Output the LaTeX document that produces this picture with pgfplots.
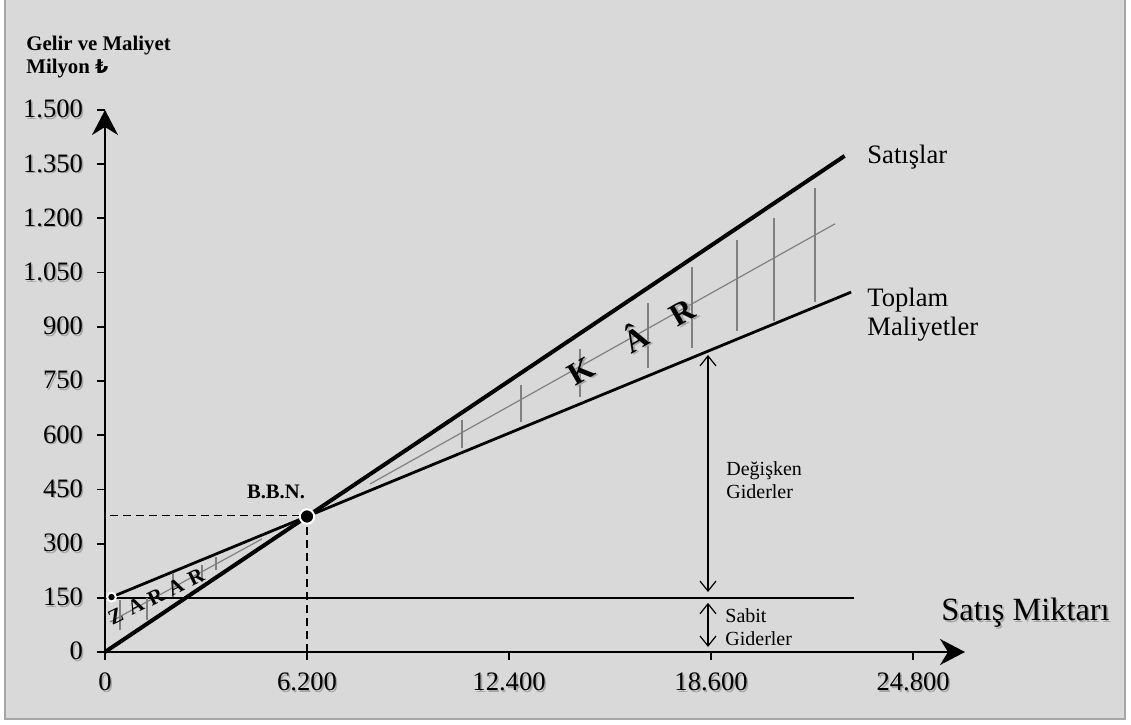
\documentclass[border=0pt]{standalone}
\usepackage{pgfplots}
\pgfplotsset{compat=1.18}
\usetikzlibrary{arrows.meta}
\usepackage{fontspec}
\setmainfont{Liberation Serif}
\newfontfamily\lirafont{DejaVu Sans}

\definecolor{panel}{HTML}{D9D9D9}
\definecolor{panelframe}{HTML}{A6A6A6}
\definecolor{hatch}{HTML}{808080}

% text with a soft grey drop shadow
\newcommand{\shadowtext}[1]{\leavevmode\rlap{\kern0.8pt\raisebox{-0.8pt}{\textcolor{black!35}{#1}}}#1}

\begin{document}
\begin{tikzpicture}
\useasboundingbox (-52.5pt,-36pt) rectangle (513pt,326pt);
\fill[white] (-52.5pt,-36pt) rectangle (513pt,326pt);
\fill[panel] (-50pt,-33.5pt) rectangle (510pt,330pt);
\draw[panelframe, line width=1pt] (-50pt,330pt) -- (-50pt,-33.5pt) -- (510pt,-33.5pt) -- (510pt,330pt);

\begin{axis}[
  scale only axis, width=430pt, height=271pt,
  xmin=0, xmax=26393, ymin=0, ymax=1500,
  scaled ticks=false,
  axis x line=bottom, axis y line=left,
  axis line style={line width=1pt, -{Stealth[length=12.5pt,width=13pt,inset=4pt]}},
  xtick={0,6200,12400,18600,24800},
  xticklabels={\shadowtext{0},\shadowtext{6.200},\shadowtext{12.400},\shadowtext{18.600},\shadowtext{24.800}},
  ytick={0,150,300,450,600,750,900,1050,1200,1350,1500},
  yticklabels={\shadowtext{0},\shadowtext{150},\shadowtext{300},\shadowtext{450},\shadowtext{600},\shadowtext{750},\shadowtext{900},\shadowtext{1.050},\shadowtext{1.200},\shadowtext{1.350},\shadowtext{1.500}},
  tick align=outside, major tick length=4pt,
  tick style={black, line width=0.9pt},
  ticklabel style={font=\fontsize{13.3}{16}\selectfont},
  yticklabel style={xshift=-3.5pt},
  xticklabel style={yshift=-3pt},
  clip=false,
]
% sales revenue
\addplot[black, line width=2pt] coordinates {(0,0) (22700,1373)};
% total costs
\addplot[black, line width=1.4pt] coordinates {(200,152) (22900,996)};
% fixed costs
\addplot[black, line width=1pt] coordinates {(0,150) (23000,150)};
% break-even guides
\addplot[black, line width=0.8pt, dash pattern=on 4pt off 2.5pt] coordinates {(150,378) (6200,378)};
\addplot[black, line width=0.8pt, dash pattern=on 4pt off 2.5pt] coordinates {(6200,0) (6200,375)};
% profit and loss mid lines
\addplot[hatch, line width=0.6pt] coordinates {(8133,465) (22404,1185)};
\addplot[hatch, line width=0.6pt] coordinates {(153,83) (4818,313)};
% profit hatching
\addplot[hatch, line width=0.6pt, unbounded coords=jump] coordinates {
 (10956,565) (10956,642) (nan,nan)
 (12767,637) (12767,739) (nan,nan)
 (14578,706) (14578,839) (nan,nan)
 (16665,786) (16665,966) (nan,nan)
 (18015,841) (18015,1066) (nan,nan)
 (19396,889) (19396,1140) (nan,nan)
 (20532,916) (20532,1201) (nan,nan)
 (21790,969) (21790,1284)
};
% loss hatching
\addplot[hatch, line width=0.6pt, unbounded coords=jump] coordinates {
 (460,61) (460,144) (nan,nan)
 (1289,89) (1289,150) (nan,nan)
 (2087,152) (2087,219) (nan,nan)
 (2977,194) (2977,241) (nan,nan)
 (3407,227) (3407,263)
};
% points
\addplot[only marks, mark=*, mark size=3.6pt, mark options={fill=black, draw=white, line width=1pt}] coordinates {(6200,375)};
\addplot[only marks, mark=*, mark size=2.2pt, mark options={fill=black, draw=white, line width=1pt}] coordinates {(200,152)};

% cost arrows
\draw[line width=0.6pt, {Straight Barb[length=5pt,width=8pt]}-{Straight Barb[length=5pt,width=8pt]}] (axis cs:18506,822) -- (axis cs:18506,166);
\draw[line width=0.6pt, {Straight Barb[length=5pt,width=8pt]}-{Straight Barb[length=5pt,width=8pt]}] (axis cs:18506,136) -- (axis cs:18506,14);

% labels
\node[anchor=base west, inner sep=0, font=\bfseries\fontsize{10.4}{12}\selectfont] at (axis cs:-2425,1666) {Gelir ve Maliyet};
\node[anchor=base west, inner sep=0, font=\bfseries\fontsize{10.4}{12}\selectfont] at (axis cs:-2425,1600) {Milyon {\lirafont\fontsize{9.5}{12}\selectfont ₺}};
\node[font=\bfseries\fontsize{10.3}{12}\selectfont] at (axis cs:5248,443) {B.B.N.};
\node[anchor=west, inner sep=0, font=\fontsize{13.3}{16}\selectfont] at (axis cs:23386,1370) {Satışlar};
\node[anchor=west, align=left, inner sep=0, font=\fontsize{13.3}{14.5}\selectfont] at (axis cs:23386,933) {Toplam\\Maliyetler};
\node[anchor=west, align=left, inner sep=0, font=\fontsize{10}{11.5}\selectfont] at (axis cs:19058,476) {Değişken\\Giderler};
\node[anchor=west, align=left, inner sep=0, font=\fontsize{10}{11.5}\selectfont] at (axis cs:19027,69) {Sabit\\Giderler};
\node[anchor=base west, inner sep=0, font=\fontsize{16.2}{19}\selectfont] at (axis cs:25657,86) {\shadowtext{Satış Miktarı}};

% profit and loss area captions
\node[rotate=30, inner sep=0, font=\bfseries\fontsize{16}{18}\selectfont] at (axis cs:16112,863)
  {\shadowtext{K\hspace{20pt}Â\hspace{15.4pt}R}};
\node[rotate=26, inner sep=0, font=\bfseries\fontsize{10.5}{12}\selectfont] at (axis cs:1565,154)
  {Z\hspace{3.8pt}A\hspace{3.6pt}R\hspace{3.6pt}A\hspace{3.6pt}R};
\end{axis}
\end{tikzpicture}
\end{document}
